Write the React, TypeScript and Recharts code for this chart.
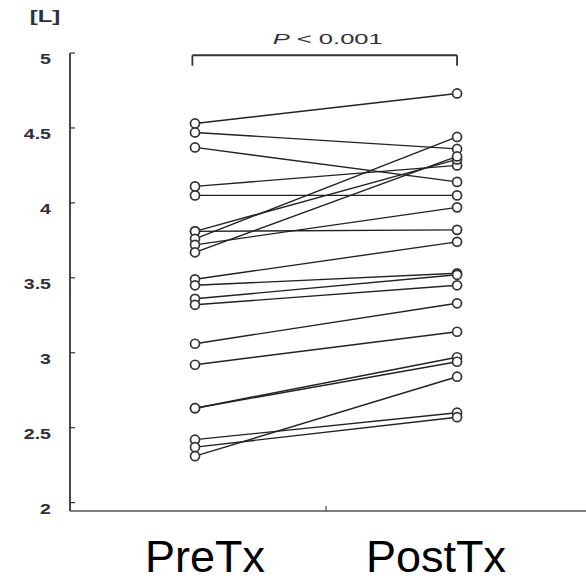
import React from 'react'
import { LineChart, Line, XAxis, YAxis, ReferenceLine } from 'recharts'

const categories = ['PreTx', 'PostTx']
// one value per subject, paired by index
const preValues = [4.53, 4.47, 4.37, 4.11, 4.05, 3.81, 3.81, 3.76, 3.72, 3.67, 3.49, 3.45, 3.36, 3.32, 3.06, 2.92, 2.63, 2.63, 2.42, 2.37, 2.31]
const postValues = [4.73, 4.36, 4.14, 4.25, 4.05, 3.82, 4.29, 4.44, 3.97, 4.31, 3.74, 3.53, 3.52, 3.45, 3.33, 3.14, 2.97, 2.94, 2.6, 2.57, 2.84]
const yTicks = [2, 2.5, 3, 3.5, 4, 4.5, 5]
const xTicks = [0, 0.5, 1]
const pValueLabel = '< 0.001'
const unitLabel = '[L]'

const data = categories.map((cat, i) => {
  const row: Record<string, number | string> = { x: i, cat }
  preValues.forEach((_, s) => {
    row[`s${s}`] = i === 0 ? preValues[s] : postValues[s]
  })
  return row
})

const font = 'Liberation Sans, Arial, sans-serif'
const textColor = '#2e2e3c'
const labelShift = [10, -21]

const YTick = ({ x, y, payload }: any) => (
  <g>
    <line x1={x} x2={x + 5} y1={y} y2={y} stroke="#333" strokeWidth={1.2} />
    <text
      transform={`translate(${x - 19},${y + 11}) scale(1.4,1)`}
      textAnchor="end"
      fontSize={14}
      fontWeight="bold"
      fontFamily={font}
      fill={textColor}
    >
      {payload.value}
    </text>
  </g>
)

const XTick = ({ x, y, payload }: any) => {
  if (payload.value === 0.5) {
    return <line x1={x} x2={x} y1={y} y2={y - 5} stroke="#444" strokeWidth={1.2} />
  }
  const i = payload.value
  return (
    <text x={x + labelShift[i]} y={y + 61} textAnchor="middle" fontSize={45} fontFamily={font} fill="#000">
      {categories[i]}
    </text>
  )
}

const PLabel = ({ viewBox }: any) => (
  <text
    x={viewBox.x + viewBox.width / 2 + 3}
    y={viewBox.y - 11}
    textAnchor="middle"
    fontSize={15}
    fontFamily={font}
    fill={textColor}
    textLength={110}
    lengthAdjust="spacingAndGlyphs"
  >
    <tspan fontStyle="italic">P</tspan> {pValueLabel}
  </text>
)

const UnitLabel = ({ viewBox }: any) => (
  <text
    transform={`translate(${viewBox.x + 45},${viewBox.y - 31}) scale(1.5,1)`}
    textAnchor="middle"
    fontSize={16}
    fontWeight="bold"
    fontFamily={font}
    fill={textColor}
  >
    {unitLabel}
  </text>
)

export default function App() {
  return (
    <div style={{ position: 'absolute', left: 0, top: 0, background: '#fff' }}>
      <LineChart width={586} height={582} data={data} margin={{ top: 53, right: 0, bottom: 0, left: 0 }}>
        <XAxis
          type="number"
          dataKey="x"
          domain={[-0.477, 1.492]}
          ticks={xTicks}
          interval={0}
          allowDataOverflow
          height={71}
          tickSize={0}
          tickMargin={0}
          tickLine={false}
          axisLine={{ stroke: '#555', strokeWidth: 1.5 }}
          tick={<XTick />}
        />
        <YAxis
          type="number"
          domain={[1.944, 5]}
          ticks={yTicks}
          interval={0}
          allowDataOverflow
          width={70}
          tickSize={0}
          tickMargin={0}
          tickLine={false}
          axisLine={{ stroke: '#333', strokeWidth: 1.8 }}
          tick={<YTick />}
          label={(props: any) => <UnitLabel {...props} />}
        />
        <ReferenceLine
          segment={[{ x: -0.01, y: 4.985 }, { x: 1, y: 4.985 }]}
          stroke="#333"
          strokeWidth={1.8}
          label={(props: any) => <PLabel {...props} />}
        />
        <ReferenceLine segment={[{ x: -0.01, y: 4.985 }, { x: -0.01, y: 4.915 }]} stroke="#333" strokeWidth={1.8} />
        <ReferenceLine segment={[{ x: 1, y: 4.985 }, { x: 1, y: 4.915 }]} stroke="#333" strokeWidth={1.8} />
        {preValues.map((_, s) => (
          <Line
            key={s}
            dataKey={`s${s}`}
            stroke="#222"
            strokeWidth={1.4}
            dot={{ r: 4.5, fill: '#fff', stroke: '#333', strokeWidth: 1.7 }}
            isAnimationActive={false}
          />
        ))}
      </LineChart>
    </div>
  )
}
